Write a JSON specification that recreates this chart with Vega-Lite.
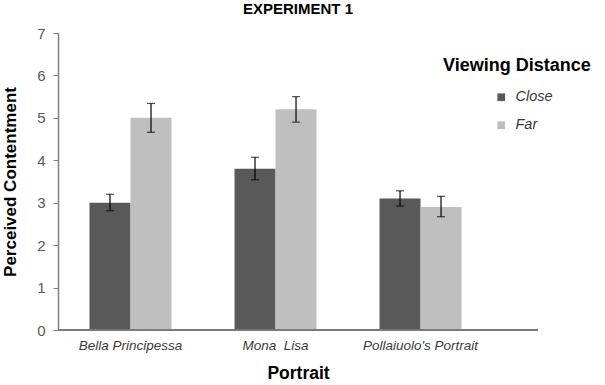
{
  "$schema": "https://vega.github.io/schema/vega-lite/v6.json",
  "autosize": "none",
  "width": 480,
  "height": 297,
  "padding": {"left": 58, "top": 33, "right": 67, "bottom": 55},
  "background": "white",
  "title": {"text": "EXPERIMENT 1", "fontSize": 15, "font": "Liberation Sans", "fontWeight": "bold", "color": "#000000", "anchor": "middle", "offset": 9},
  "data": {"values": [
    {"portrait": "Bella Principessa", "distance": "Close", "mean": 3.0, "lo": 2.81, "hi": 3.2},
    {"portrait": "Bella Principessa", "distance": "Far", "mean": 5.0, "lo": 4.66, "hi": 5.34},
    {"portrait": "Mona\u00a0 Lisa", "distance": "Close", "mean": 3.8, "lo": 3.54, "hi": 4.07},
    {"portrait": "Mona\u00a0 Lisa", "distance": "Far", "mean": 5.2, "lo": 4.9, "hi": 5.5},
    {"portrait": "Pollaiuolo's Portrait", "distance": "Close", "mean": 3.1, "lo": 2.92, "hi": 3.28},
    {"portrait": "Pollaiuolo's Portrait", "distance": "Far", "mean": 2.9, "lo": 2.67, "hi": 3.15}
  ]},
  "layer": [
    {"mark": {"type": "bar"},
     "encoding": {
       "x": {"field": "portrait", "type": "nominal", "sort": null,
         "scale": {"paddingInner": 0, "paddingOuter": 0.155, "align": 0},
         "axis": {"title": "Portrait", "labelAngle": 0, "ticks": false, "domain": false, "labelFontStyle": "italic", "labelFontSize": 13.5, "labelFont": "Liberation Sans", "labelColor": "#3a3a3a", "labelPadding": 8, "titleFont": "Liberation Sans", "titleFontSize": 17.5, "titleFontWeight": "bold", "titleColor": "#000000", "titlePadding": 13}},
       "xOffset": {"field": "distance", "type": "nominal", "scale": {"paddingInner": 0, "paddingOuter": 0.768}},
       "y": {"field": "mean", "type": "quantitative", "scale": {"domain": [0, 7]},
         "axis": {"title": "Perceived Contentment", "tickCount": 7, "grid": false, "ticks": true, "tickSize": 5, "tickColor": "#808080", "domainColor": "#808080", "domainWidth": 1.5, "labelFontSize": 15, "labelFont": "Liberation Sans", "labelColor": "#595959", "labelPadding": 8, "titleFont": "Liberation Sans", "titleFontSize": 17, "titleFontWeight": "bold", "titleColor": "#000000", "titlePadding": 17}},
       "color": {"field": "distance", "type": "nominal", "scale": {"domain": ["Close", "Far"], "range": ["#595959", "#bfbfbf"]},
         "legend": {"title": "Viewing Distance", "orient": "none", "legendX": 385, "legendY": 24, "titleFont": "Liberation Sans", "titleFontSize": 18, "titleFontWeight": "bold", "titleColor": "#000000", "titlePadding": 15, "labelFont": "Liberation Sans", "labelFontSize": 14.5, "labelFontStyle": "italic", "labelColor": "#3a3a3a", "symbolType": "square", "symbolSize": 60, "symbolOffset": 51, "symbolStrokeWidth": 0, "rowPadding": 13, "labelOffset": 7}}
     }},
    {"mark": {"type": "rule", "color": "#000000", "strokeWidth": 1.2},
     "encoding": {
       "x": {"field": "portrait", "type": "nominal", "sort": null},
       "xOffset": {"field": "distance", "type": "nominal"},
       "y": {"field": "lo", "type": "quantitative"}, "y2": {"field": "hi"}}},
    {"mark": {"type": "tick", "color": "#000000", "size": 8, "thickness": 1.2},
     "encoding": {
       "x": {"field": "portrait", "type": "nominal", "sort": null},
       "xOffset": {"field": "distance", "type": "nominal"},
       "y": {"field": "lo", "type": "quantitative"}}},
    {"mark": {"type": "tick", "color": "#000000", "size": 8, "thickness": 1.2},
     "encoding": {
       "x": {"field": "portrait", "type": "nominal", "sort": null},
       "xOffset": {"field": "distance", "type": "nominal"},
       "y": {"field": "hi", "type": "quantitative"}}},
    {"mark": {"type": "rule", "color": "#7a7a7a", "strokeWidth": 2},
     "encoding": {"y": {"datum": 0, "type": "quantitative"}}}
  ],
  "config": {"view": {"stroke": null}}
}
